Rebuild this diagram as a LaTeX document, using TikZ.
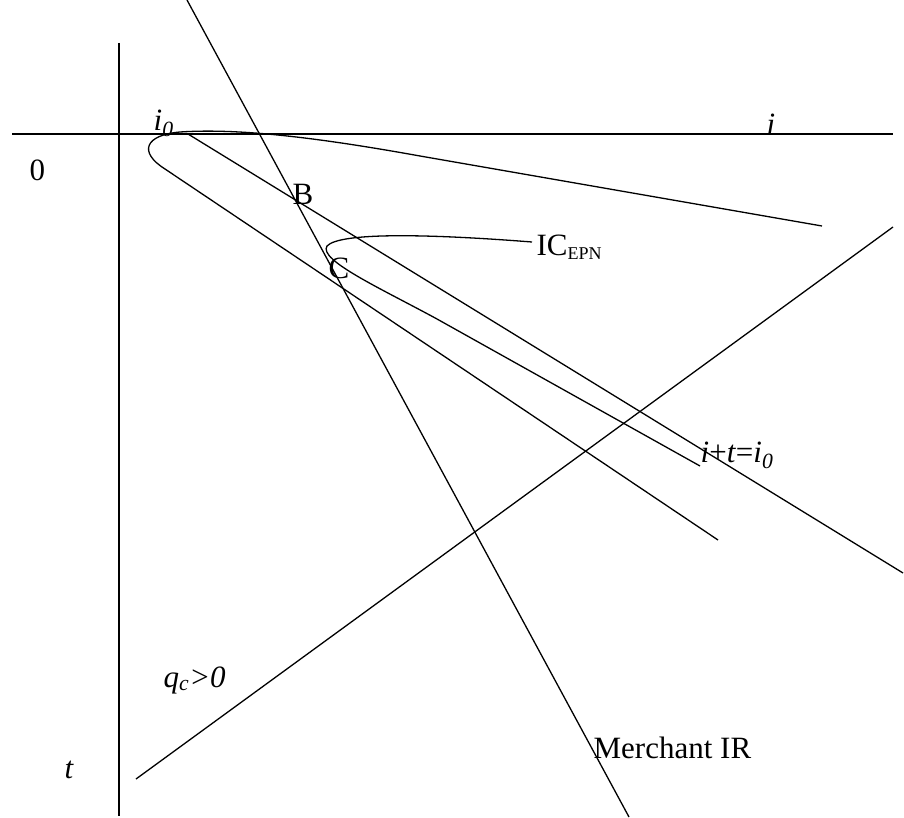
\documentclass[tikz,border=0pt]{standalone}
\usepackage{fontspec}
\setmainfont{Liberation Serif}
\begin{document}
\begin{tikzpicture}[x=1pt,y=-1pt,line width=1.3pt,
  lbl/.style={inner sep=0pt,anchor=west,font=\fontsize{31}{31}\selectfont}]
\useasboundingbox (0,0) rectangle (904,818);
% axes
\coordinate (hx0) at (12,134);
\coordinate (hx1) at (893,134);
\coordinate (vy0) at (119,43);
\coordinate (vy1) at (119,816);
\draw (hx0) -- (hx1);
\draw (vy0) -- (vy1);
% merchant IR
\coordinate (m0) at (187,0);
\coordinate (m1) at (629,817);
\draw (m0) -- (m1);
% i+t=i0
\coordinate (b0) at (188,134);
\coordinate (b1) at (903,573);
\draw (b0) -- (b1);
% qc>0
\coordinate (q0) at (136,779);
\coordinate (q1) at (893,227);
\draw (q0) -- (q1);
% outer IC
\draw (822,226) -- (420,156) .. controls (320,138) and (240,128) .. (180,132)
  .. controls (145,135) and (138,152) .. (165,169) -- (718,540);
% inner IC EPN
\draw (532,242) .. controls (430,234) and (340,232) .. (327,246)
  .. controls (318,260) and (380,288) .. (437,319) -- (700,466);
% labels
\node[lbl] (l0) at (29,170) {0};
\node[lbl] (li) at (766,124) {\textit{i}};
\node[lbl] (li0) at (153,123) {\textit{i}\textsubscript{\textit{0}}};
\node[lbl] (lB) at (292,194) {B};
\node[lbl] (lC) at (328,268) {C};
\node[lbl] (lIC) at (536,247) {IC\textsubscript{\fontsize{18}{18}\selectfont EPN}};
\node[lbl] (lit) at (700,455) {\textit{i}+\textit{t}=\textit{i}\textsubscript{\textit{0}}};
\node[lbl] (lq) at (163,680) {\textit{q}\textsubscript{\textit{c}}\textit{>0}};
\node[lbl] (lt) at (64,770) {\textit{t}};
\node[lbl] (lM) at (593,748) {Merchant IR};
\end{tikzpicture}
\end{document}
